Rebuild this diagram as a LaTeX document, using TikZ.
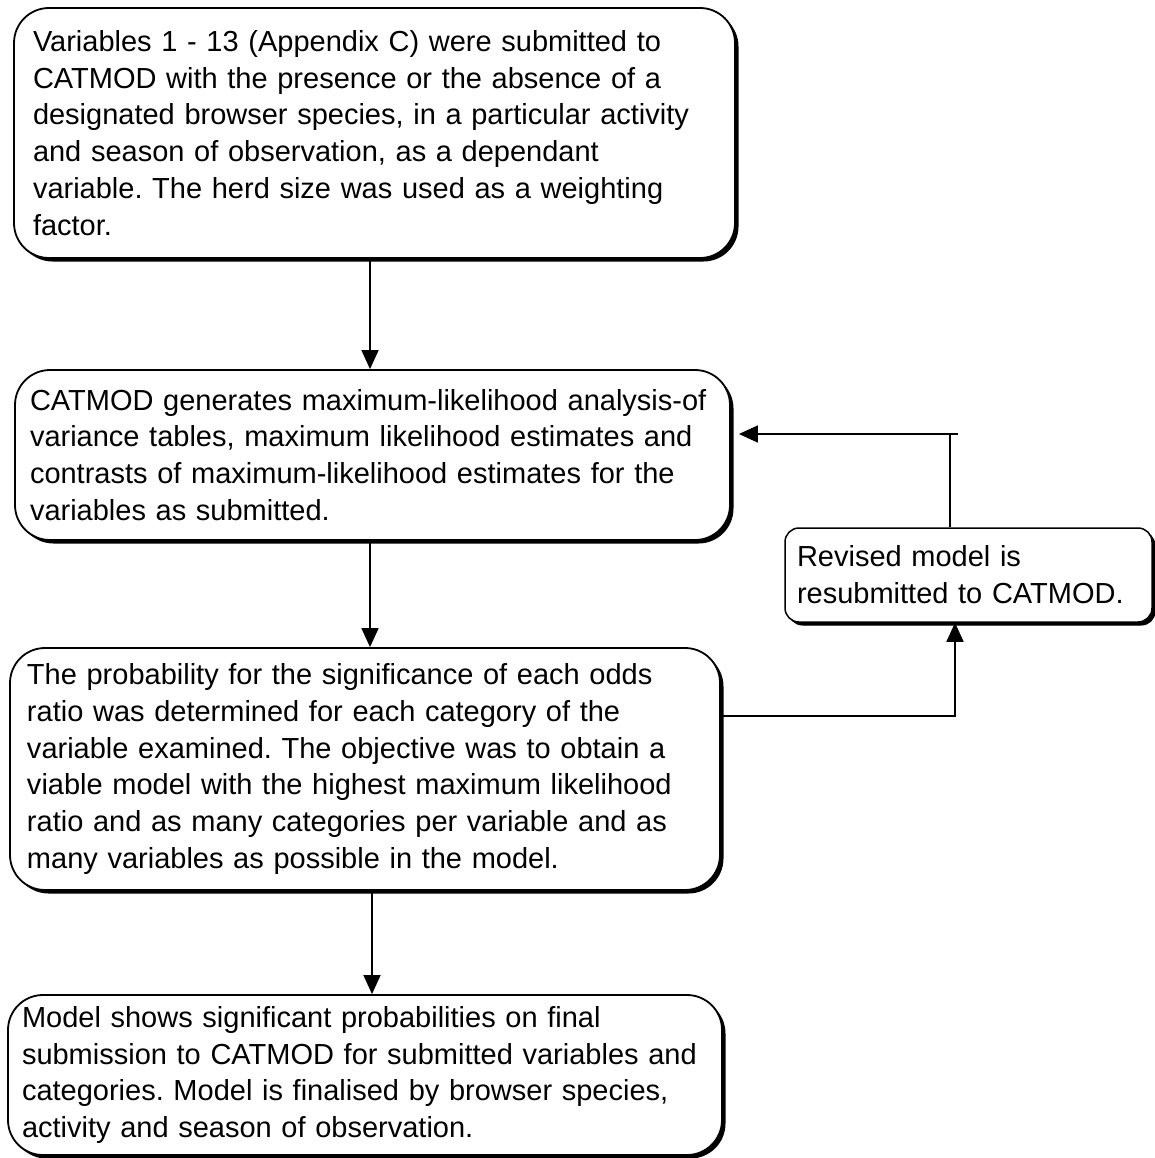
\documentclass[tikz,border=0pt]{standalone}
\usepackage{fontspec}
\setmainfont{Liberation Sans}
\usetikzlibrary{arrows.meta,shadows}
\newcommand\tline[1]{\mbox{#1}}
\frenchspacing
\begin{document}
\begin{tikzpicture}[x=1pt,y=-1pt,
  flowbox/.style={draw, line width=1.8pt, rounded corners=35pt, fill=white,
    drop shadow={shadow xshift=3.5pt, shadow yshift=-3.5pt, fill=black, opacity=1},
    align=left, inner ysep=0pt, font=\fontsize{29}{36.8}\selectfont},
  smallbox/.style={flowbox, line width=1.5pt, rounded corners=14pt,
    drop shadow={shadow xshift=3pt, shadow yshift=-3pt, fill=black, opacity=1}},
  arr/.style={line width=1.6pt, -{Triangle[length=19pt,width=17pt]}}]
\useasboundingbox (0,0) rectangle (1155,1158);

\node[flowbox, text width=683pt, inner xsep=19pt, minimum height=250pt] (b1) at (374.5,133) {%
\tline{Variables 1 - 13 (Appendix C) were submitted to}\\
\tline{CATMOD with the presence or the absence of a}\\
\tline{designated browser species, in a particular activity}\\
\tline{and season of observation, as a dependant}\\
\tline{variable. The herd size was used as a weighting}\\
\tline{factor.}};

\node[flowbox, text width=685pt, inner xsep=15pt, minimum height=170pt] (b2) at (372.5,455) {%
\tline{CATMOD generates maximum-likelihood analysis-of}\\
\tline{variance tables, maximum likelihood estimates and}\\
\tline{contrasts of maximum-likelihood estimates for the}\\
\tline{variables as submitted.}};

\node[flowbox, text width=676pt, inner xsep=17pt, minimum height=242pt] (b3) at (365,769) {%
\tline{The probability for the significance of each odds}\\
\tline{ratio was determined for each category of the}\\
\tline{variable examined. The objective was to obtain a}\\
\tline{viable model with the highest maximum likelihood}\\
\tline{ratio and as many categories per variable and as}\\
\tline{many variables as possible in the model.}};

\node[flowbox, text width=686pt, inner xsep=14pt, minimum height=160pt] (b4) at (365,1075) {%
\tline{Model shows significant probabilities on final}\\
\tline{submission to CATMOD for submitted variables and}\\
\tline{categories. Model is finalised by browser species,}\\
\tline{activity and season of observation.}};

\node[smallbox, text width=343pt, inner xsep=12pt, minimum height=94pt] (b5) at (968.5,575) {%
\tline{Revised model is}\\
\tline{resubmitted to CATMOD.}};

\draw[arr] (370,0 |- b1.south) -- (370,0 |- b2.north);
\draw[arr] (370,0 |- b2.south) -- (370,0 |- b3.north);
\draw[arr] (372,0 |- b3.south) -- (372,0 |- b4.north);
\draw[arr] (b3.east |- 0,716) -- (955,716) -- (955,0 |- b5.south);
\coordinate (stub) at (958,434);
\draw[arr] (950,0 |- b5.north) -- (950,434) (stub) -- ([xshift=8pt]b2.east |- stub);
\end{tikzpicture}
\end{document}
